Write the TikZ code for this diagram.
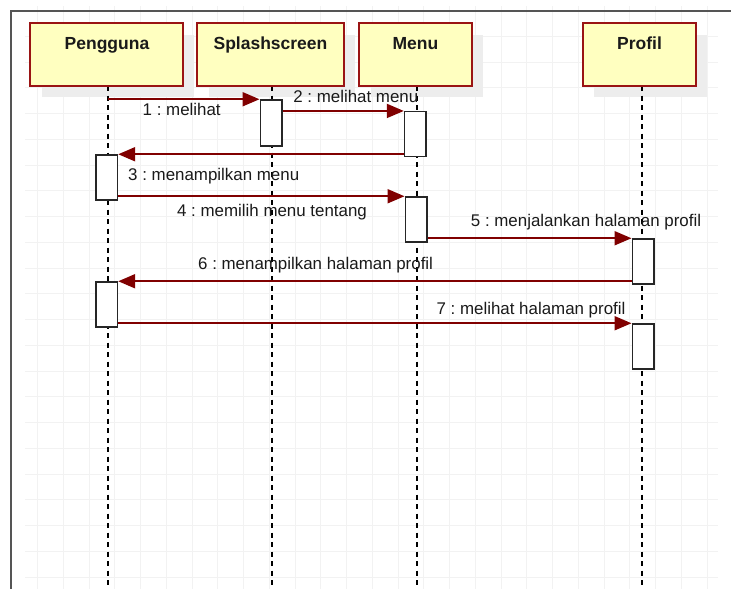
\documentclass[tikz,border=0pt]{standalone}
\usepackage{fontspec}
\setmainfont{Liberation Sans}
\usetikzlibrary{arrows.meta}
\definecolor{boxred}{HTML}{9A1414}
\definecolor{msgred}{HTML}{800000}
\definecolor{actorfill}{HTML}{FFFFC0}
\definecolor{shadowgrey}{HTML}{EDEDED}
\definecolor{gridgrey}{HTML}{F2F2F2}
\definecolor{framegrey}{HTML}{555555}
\definecolor{inkgrey}{HTML}{1A1A1A}
\frenchspacing
\begin{document}
\begin{tikzpicture}[x=1pt,y=-1pt,
  gridline/.style={draw=gridgrey, line width=0.8pt},
  actorbox/.style={draw=boxred, line width=1.8pt, fill=actorfill,
    minimum width=#1, minimum height=63pt, inner sep=0pt},
  actorshadow/.style={fill=shadowgrey},
  actortext/.style={font=\fontsize{17.5}{20}\selectfont\bfseries, text=inkgrey,
    anchor=base, inner sep=0pt},
  lifeline/.style={draw=black, line width=1.7pt, dash pattern=on 5pt off 4.5pt},
  actbox/.style={draw=black!85, line width=1.5pt, fill=white,
    minimum width=21.5pt, minimum height=45pt, inner sep=0pt},
  msg/.style={draw=msgred, line width=2pt,
    -{Triangle[length=17pt,width=14pt]}},
  msgtext/.style={font=\fontsize{16.9}{20}\selectfont, text=inkgrey,
    anchor=base, inner sep=0pt}]
\useasboundingbox (0,0) rectangle (731,589);
\fill[white] (0,0) rectangle (731,589);

% background grid
\foreach \k in {0,...,26}
  \draw[gridline] ({37.5+25.75*\k},6) -- ({37.5+25.75*\k},589);
\foreach \k in {0,...,22}
  \draw[gridline] (25,{10.5+25.75*\k}) -- (718,{10.5+25.75*\k});

% frame
\draw[framegrey, line width=1.5pt] (11,589) -- (11,11) -- (731,11);

% header shadows
\fill[actorshadow] (42,35) rectangle (194,97);
\fill[actorshadow] (209,35) rectangle (355,97);
\fill[actorshadow] (371,35) rectangle (483,97);
\fill[actorshadow] (594,35) rectangle (707,97);

% lifelines
\coordinate (penTop) at (108,86);
\coordinate (splTop) at (272,86);
\coordinate (menTop) at (417,86);
\coordinate (proTop) at (642,86);
\draw[lifeline] (penTop) -- (penTop |- 0,589);
\draw[lifeline] (splTop) -- (splTop |- 0,589);
\draw[lifeline] (menTop) -- (menTop |- 0,589);
\draw[lifeline] (proTop) -- (proTop |- 0,589);

% header boxes
\node[actorbox=153pt] (pen) at (106.5,54.5) {};
\node[actorbox=147pt] (spl) at (270.5,54.5) {};
\node[actorbox=113pt] (men) at (415.5,54.5) {};
\node[actorbox=113pt] (pro) at (639.5,54.5) {};
\node[actortext] (penT) at (107,49.3) {Pengguna};
\node[actortext] (splT) at (270.5,49.3) {Splashscreen};
\node[actortext] (menT) at (415.5,49.3) {Menu};
\node[actortext] (proT) at (639.5,49.3) {Profil};

% activation bars
\node[actbox, minimum height=46pt] (sa1) at (271,123) {};
\node[actbox] (ma1) at (415.3,134.2) {};
\node[actbox] (pa1) at (106.7,177.5) {};
\node[actbox] (ma2) at (416,219.5) {};
\node[actbox] (ra1) at (643,261.5) {};
\node[actbox] (pa2) at (106.7,304.5) {};
\node[actbox] (ra2) at (643,346.5) {};

% messages
\draw[msg] (penTop |- sa1.north) -- (sa1.north west);
\draw[msg] (sa1.east |- ma1.north) -- (ma1.north west);
\draw[msg] (ma1.west |- pa1.north) -- (pa1.north east);
\draw[msg] (pa1.east |- ma2.north) -- (ma2.north west);
\draw[msg] (ma2.east |- ra1.north) -- (ra1.north west);
\draw[msg] (ra1.west |- pa2.north) -- (pa2.north east);
\draw[msg] (pa2.east |- ra2.north) -- (ra2.north west);

% message labels
\node[msgtext] (l1) at (181.7,115.7) {1 : melihat};
\node[msgtext] (l2) at (355.8,102.3) {2 : melihat menu};
\node[msgtext] (l3) at (213.7,180) {3 : menampilkan menu};
\node[msgtext] (l4) at (272,216.7) {4 : memilih menu tentang};
\node[msgtext] (l5) at (586,226.7) {5 : menjalankan halaman profil};
\node[msgtext] (l6) at (315.6,269.3) {6 : menampilkan halaman profil};
\node[msgtext] (l7) at (531,314) {7 : melihat halaman profil};
\end{tikzpicture}
\end{document}
